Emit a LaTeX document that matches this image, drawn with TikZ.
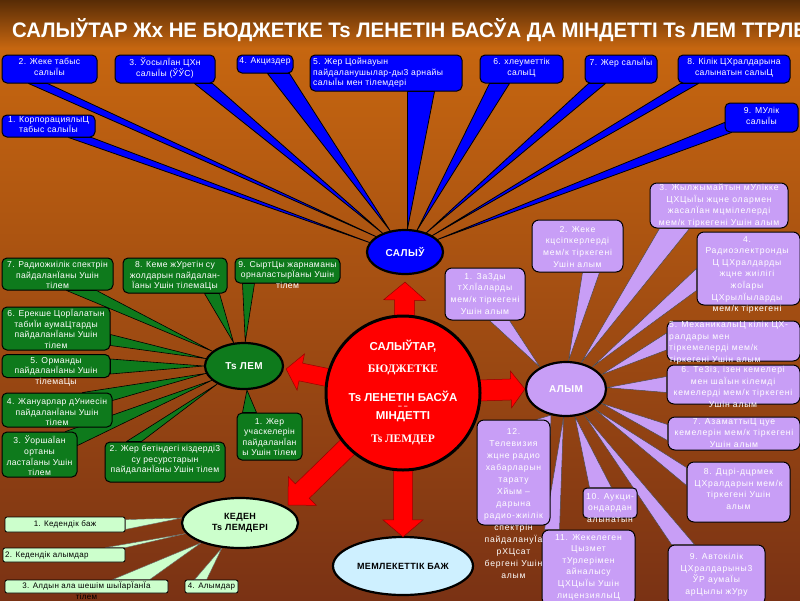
\documentclass[tikz,border=0pt]{standalone}
\usepackage{fontspec}
\usepackage{graphicx}
\setmainfont{Liberation Sans}
\newfontfamily\bxfont[LetterSpace=4]{Liberation Sans}
\newfontfamily\pxfont[LetterSpace=9]{Liberation Sans}
\newfontfamily\serifb{Liberation Serif}
\usetikzlibrary{shapes.geometric,calc}
\pgfdeclarelayer{bg}\pgfdeclarelayer{wedges}\pgfsetlayers{bg,wedges,main}
\definecolor{bluebox}{RGB}{0,0,255}
\definecolor{greenbox}{RGB}{14,122,28}
\definecolor{purpbox}{RGB}{200,158,246}
\definecolor{kedbox}{RGB}{204,255,204}
\definecolor{membaj}{RGB}{206,240,255}
\definecolor{bgtop}{RGB}{88,44,6}
\definecolor{bgor}{RGB}{198,102,16}
\definecolor{bgmid}{RGB}{178,86,16}
\definecolor{bgbot}{RGB}{122,50,20}
\newcommand\blockarr[5]{%
  \coordinate (ha) at ($(#2)!#5!(#1)$);
  \draw[redarrow] ($(#1)!#3!90:(#2)$) -- ($(ha)!#3!90:(#2)$) -- ($(ha)!#4!90:(#2)$) -- (#2)
    -- ($(ha)!#4!-90:(#2)$) -- ($(ha)!#3!-90:(#2)$) -- ($(#1)!#3!-90:(#2)$) -- cycle;}
\begin{document}
\begin{tikzpicture}[x=1pt,y=-1pt,
  box/.style={draw=black, line width=1pt, rounded corners=5pt, inner sep=0pt},
  bbox/.style={box, fill=bluebox},
  gbox/.style={box, fill=greenbox},
  pbox/.style={box, fill=purpbox, rounded corners=7pt},
  kbox/.style={draw=black, line width=0.8pt, fill=kedbox, rounded corners=2pt, inner sep=0pt},
  btxt/.style={text=white, align=center, inner sep=0pt, font=\bxfont\fontsize{8.6}{10.6}\selectfont},
  gtxt/.style={btxt, font=\bxfont\fontsize{8.6}{10.6}\selectfont},
  ptxt/.style={text=white, align=center, inner sep=0pt, font=\pxfont\fontsize{8.6}{11.6}\selectfont},
  ktxt/.style={text=black, align=center, inner sep=0pt, font=\bxfont\fontsize{8}{11}\selectfont},
  bwedge/.style={fill=bluebox, draw=black, line width=0.8pt, line join=round},
  gwedge/.style={fill=greenbox, draw=black, line width=0.6pt, line join=round},
  pwedge/.style={fill=purpbox, draw=black!70, line width=0.5pt, line join=round},
  kwedge/.style={fill=kedbox, draw=black!60, line width=0.4pt, line join=round},
  oval/.style={ellipse, draw=black, line width=2.2pt, inner sep=0pt, align=center},
  ovalfont/.style={font=\bxfont\bfseries\fontsize{10}{12}\selectfont},
  redarrow/.style={fill=red, draw=red!60!black, line width=0.5pt},
  ctxt/.style={text=white, inner sep=0pt, font=\bfseries\fontsize{11.5}{13}\selectfont}
]
\useasboundingbox (0,0) rectangle (800,600);
\clip (0,0) rectangle (800,600);
\begin{pgfonlayer}{bg}
\fill[top color=bgtop, bottom color=bgor] (0,0) rectangle (800,48);
\fill[top color=bgor, middle color=bgmid, bottom color=bgbot] (0,48) rectangle (800,600);
\end{pgfonlayer}

% title
\node[anchor=base west, inner sep=0pt, text=white, font=\bfseries\fontsize{21}{21}\selectfont] (title) at (12,37)
  {\scalebox{0.97}[1]{САЛЫЎТАР Жх НЕ БЮДЖЕТКЕ Ts ЛЕНЕТІН БАСЎА ДА МІНДЕТТІ Ts ЛЕМ ТТРЛЕРІ}};

% blue boxes
\node[bbox, minimum width=93, minimum height=22] (b1) at (48.5,126) {};
\node[btxt, anchor=north] (b1t) at (48.5,116) {1. КорпорациялыЦ\\табыс салыЇы};
\node[bbox, minimum width=95, minimum height=28] (b2) at (49.5,69) {};
\node[btxt, anchor=north] (b2t) at (49.5,58) {2. Жеке табыс\\салыЇы};
\node[bbox, minimum width=100, minimum height=28] (b3) at (165,69) {};
\node[btxt, anchor=north] (b3t) at (165,58) {3. ЎосылЇан ЦХн\\салыЇы (ЎЎС)};
\node[bbox, minimum width=56, minimum height=18] (b4) at (265,64) {};
\node[btxt, anchor=north] (b4t) at (265,57) {4. Акциздер};
\node[bbox, minimum width=152, minimum height=36] (b5) at (386,73) {};
\node[btxt, align=left, anchor=north west] (b5t) at (313,58) {5. Жер Цойнауын\\пайдаланушылар-ды3 арнайы\\салыЇы мен тілемдері};
\node[bbox, minimum width=83, minimum height=28] (b6) at (521.5,69) {};
\node[btxt, anchor=north] (b6t) at (521.5,58) {6. хлеуметтік\\салыЦ};
\node[bbox, minimum width=72, minimum height=28] (b7) at (621,69) {};
\node[btxt, anchor=north] (b7t) at (621,58) {7. Жер салыЇы};
\node[bbox, minimum width=112, minimum height=28] (b8) at (734,69) {};
\node[btxt, anchor=north] (b8t) at (734,58) {8. Кілік ЦХралдарына\\салынатын салыЦ};
\node[bbox, minimum width=73, minimum height=29] (b9) at (761.5,117.5) {};
\node[btxt, anchor=north] (b9t) at (761.5,107) {9. МУлік\\салыЇы};

% green boxes
\node[gbox, minimum width=111, minimum height=32] (g7) at (57.5,274) {};
\node[gtxt, anchor=north] (g7t) at (57.5,261) {7. Радиожиілік спектрін\\пайдаланЇаны Ушін\\тілем};
\node[gbox, minimum width=104, minimum height=35] (g8) at (175,275.5) {};
\node[gtxt, anchor=north] (g8t) at (175,261) {8. Кеме жУретін су\\жолдарын пайдалан-\\Їаны Ушін тілемаЦы};
\node[gbox, minimum width=105, minimum height=25] (g9) at (287.5,270.5) {};
\node[gtxt, anchor=north] (g9t) at (287.5,261) {9. СыртЦы жарнаманы\\орналастырЇаны Ушін\\тілем};
\node[gbox, minimum width=108, minimum height=43] (g6) at (56,328.5) {};
\node[gtxt, anchor=north] (g6t) at (56,309) {6. Ерекше ЦорЇалатын\\табиЇи аумаЦтарды\\пайдаланЇаны Ушін\\тілем};
\node[gbox, minimum width=108, minimum height=23] (g5) at (56,366) {};
\node[gtxt, anchor=north] (g5t) at (56,357) {5. Орманды\\пайдаланЇаны Ушін\\тілемаЦы};
\node[gbox, minimum width=110, minimum height=34] (g4) at (57,410) {};
\node[gtxt, anchor=north] (g4t) at (57,398) {4. Жануарлар дУниесін\\пайдаланЇаны Ушін\\тілем};
\node[gbox, minimum width=75, minimum height=45] (g3) at (39.5,454.5) {};
\node[gtxt, anchor=north] (g3t) at (39.5,436) {3. ЎоршаЇан\\ортаны\\ластаЇаны Ушін\\тілем};
\node[gbox, minimum width=120, minimum height=40] (g2) at (165,462) {};
\node[gtxt, anchor=north] (g2t) at (165,445) {2. Жер бетіндегі кіздерді3\\су ресурстарын\\пайдаланЇаны Ушін тілем};
\node[gbox, minimum width=65, minimum height=47] (g1) at (269.5,436.5) {};
\node[gtxt, anchor=north] (g1t) at (269.5,418) {1. Жер\\учаскелерін\\пайдаланЇан\\ы Ушін тілем};

% purple boxes
\node[pbox, minimum width=80, minimum height=52] (p1) at (485,294) {};
\node[ptxt, anchor=north] (p1t) at (485,273) {1. За3ды\\тХлЇаларды\\мем/к тіркегені\\Ушін алым};
\node[pbox, minimum width=91, minimum height=52] (p2) at (577.5,246) {};
\node[ptxt, anchor=north] (p2t) at (577.5,226) {2. Жеке\\кцсіпкерлерді\\мем/к тіркегені\\Ушін алым};
\node[pbox, minimum width=138, minimum height=45] (p3) at (719,205.5) {};
\node[ptxt, anchor=north] (p3t) at (719,184) {3. Жылжымайтын мУлікке\\ЦХЦыЇы жцне олармен\\жасалЇан мцмілелерді\\мем/к тіркегені Ушін алым};
\node[pbox, minimum width=103, minimum height=73] (p4) at (748.5,268.5) {};
\node[ptxt, anchor=north] (p4t) at (747,236) {4.\\Радиоэлектронды\\Ц ЦХралдарды\\жцне жиілігі\\жоЇары\\ЦХрылЇыларды\\мем/к тіркегені};
\node[pbox, minimum width=133, minimum height=40] (p5) at (733.5,341) {};
\node[ptxt, align=left, anchor=north west] (p5t) at (669,321) {5. МеханикалыЦ кілік ЦХ-\\ралдары мен\\тіркемелерді мем/к\\тіркегені Ушін алым};
\node[pbox, minimum width=133, minimum height=39] (p6) at (733.5,384.5) {};
\node[ptxt, anchor=north] (p6t) at (733,366) {6. Те3із, ізен кемелері\\мен шаЇын кілемді\\кемелерді мем/к тіркегені\\Ушін алым};
\node[pbox, minimum width=132, minimum height=33] (p7) at (734,433.5) {};
\node[ptxt, anchor=north] (p7t) at (734,418) {7. АзаматтыЦ цуе\\кемелерін мем/к тіркегені\\Ушін алым};
\node[pbox, minimum width=103, minimum height=60] (p8) at (738.5,492) {};
\node[ptxt, anchor=north] (p8t) at (738.5,468) {8. Дцрі-дцрмек\\ЦХралдарын мем/к\\тіркегені Ушін\\алым};
\node[pbox, minimum width=97, minimum height=60] (p9) at (716.5,575) {};
\node[ptxt, anchor=north] (p9t) at (716.5,553) {9. Автокілік\\ЦХралдарыны3\\ЎР аумаЇы\\арЦылы жУру};
\node[pbox, rounded corners=4pt, minimum width=54, minimum height=30] (p10) at (610,503) {};
\node[ptxt, anchor=north] (p10t) at (610,493) {10. Аукци-\\ондардан\\алынатын};
\node[pbox, minimum width=93, minimum height=75] (p11) at (588.5,567.5) {};
\node[ptxt, anchor=north] (p11t) at (588.5,534) {11. Жекелеген\\Цызмет\\тУрлерімен\\айналысу\\ЦХЦыЇы Ушін\\лицензиялыЦ};
\node[pbox, minimum width=73, minimum height=105] (p12) at (513.5,472.5) {};
\node[ptxt, anchor=north, font=\pxfont\fontsize{8.6}{12}\selectfont] (p12t) at (513.5,428) {12.\\Телевизия\\жцне радио\\хабарларын\\тарату\\Хйым –\\дарына\\радио-жиілік\\спектрін\\пайдалануЇа\\рХЦсат\\бергені Ушін\\алым};

% customs boxes
\node[kbox, minimum width=120, minimum height=15] (k1) at (65,524.5) {};
\node[ktxt] (k1t) at (65,524.5) {1. Кедендік баж};
\node[kbox, minimum width=122, minimum height=14] (k2) at (64,555) {};
\node[ktxt, anchor=west] (k2t) at (5,555) {2. Кедендік алымдар};
\node[kbox, minimum width=163, minimum height=13] (k3) at (86.5,586.5) {};
\node[ktxt, anchor=north] (k3t) at (86.5,582) {3. Алдын ала шешім шыЇарЇанЇа\\тілем};
\node[kbox, minimum width=53, minimum height=13] (k4) at (211.5,586.5) {};
\node[ktxt] (k4t) at (211.5,586.5) {4. Алымдар};

% ellipses
\node[oval, ovalfont, fill=bluebox, text=white, minimum width=76, minimum height=44] (salyq) at (405,252) {САЛЫЎ};
\node[oval, ovalfont, fill=greenbox, text=white, minimum width=78, minimum height=46] (tolem) at (244,366) {Ts ЛЕМ};
\node[oval, ovalfont, fill=purpbox, text=white, minimum width=80, minimum height=54] (alym) at (566,389) {АЛЫМ};
\node[oval, fill=kedbox, text=black, minimum width=116, minimum height=50, font=\bxfont\bfseries\fontsize{9}{11}\selectfont] (keden) at (240,523) {КЕДЕН\\Ts ЛЕМДЕРІ};
\node[oval, fill=membaj, text=black, minimum width=140, minimum height=58, font=\bxfont\bfseries\fontsize{9}{11}\selectfont] (memb) at (403,566) {МЕМЛЕКЕТТІК БАЖ};

% wedges
\begin{pgfonlayer}{wedges}
\draw[bwedge] ($(b1.south)+(20,0)$) -- (salyq.165) -- ($(b1.south east)+(-4,0)$) -- cycle;
\draw[bwedge] ($(b2.south west)+(27,0)$) -- (salyq.152) -- ($(b2.south west)+(46,0)$) -- cycle;
\draw[bwedge] ($(b3.south west)+(80,0)$) -- (salyq.140) -- ($(b3.south west)+(98,0)$) -- cycle;
\draw[bwedge] ($(b4.south west)+(31,0)$) -- (salyq.125) -- ($(b4.south west)+(53,0)$) -- cycle;
\draw[bwedge] ($(b5.south west)+(98,0)$) -- (salyq.84) -- ($(b5.south west)+(125,0)$) -- cycle;
\draw[bwedge] ($(b6.south west)+(10,0)$) -- (salyq.61) -- ($(b6.south west)+(30,0)$) -- cycle;
\draw[bwedge] ($(b7.south west)+(4,0)$) -- (salyq.42) -- ($(b7.south west)+(21,0)$) -- cycle;
\draw[bwedge] ($(b8.south west)+(3,0)$) -- (salyq.31) -- ($(b8.south west)+(21,0)$) -- cycle;
\draw[bwedge] ($(b9.south west)+(0,-10)$) -- (salyq.21) -- ($(b9.south west)+(7,0)$) -- cycle;

\draw[gwedge] ($(g7.south west)+(65,0)$) -- (tolem.155) -- ($(g7.south west)+(95,0)$) -- cycle;
\draw[gwedge] ($(g8.south west)+(82,0)$) -- (tolem.114) -- ($(g8.south west)+(97,0)$) -- cycle;
\draw[gwedge] ($(g9.south west)+(8,0)$) -- (tolem.87) -- ($(g9.south west)+(20,0)$) -- cycle;
\draw[gwedge] ($(g6.south east)+(0,-16)$) -- (tolem.169) -- ($(g6.south east)+(0,-5)$) -- cycle;
\draw[gwedge] ($(g5.north east)+(0,5)$) -- (tolem.180) -- ($(g5.south east)+(0,-4)$) -- cycle;
\draw[gwedge] ($(g4.north east)+(-30,0)$) -- (tolem.191) -- ($(g4.north east)+(0,8)$) -- cycle;
\draw[gwedge] ($(g3.north east)+(-12,0)$) -- (tolem.204) -- ($(g3.north east)+(0,14)$) -- cycle;
\draw[gwedge] ($(g2.north west)+(22,0)$) -- (tolem.214) -- ($(g2.north west)+(37,0)$) -- cycle;
\draw[gwedge] ($(g1.north west)+(6,0)$) -- (tolem.277) -- ($(g1.north west)+(20,0)$) -- cycle;

\draw[pwedge] ($(p1.south west)+(45,0)$) -- (alym.140) -- ($(p1.south west)+(65,0)$) -- cycle;
\draw[pwedge] ($(p2.south west)+(51,0)$) -- (alym.85) -- ($(p2.south west)+(68,0)$) -- cycle;
\draw[pwedge] ($(p3.south west)+(10,0)$) -- (alym.60) -- ($(p3.south west)+(40,0)$) -- cycle;
\draw[pwedge] ($(p4.west)+(0,0)$) -- (alym.40) -- ($(p4.west)+(0,22)$) -- cycle;
\draw[pwedge] ($(p5.west)+(0,-8)$) -- (alym.22) -- ($(p5.west)+(0,9)$) -- cycle;
\draw[pwedge] ($(p6.west)+(0,-8)$) -- (alym.2) -- ($(p6.west)+(0,8)$) -- cycle;
\draw[pwedge] ($(p7.west)+(0,-9)$) -- (alym.-22) -- ($(p7.west)+(0,7)$) -- cycle;
\draw[pwedge] ($(p8.north west)+(0,6)$) -- (alym.-35) -- ($(p8.north west)+(0,24)$) -- cycle;
\draw[pwedge] ($(p9.north west)+(4,0)$) -- (alym.-55) -- ($(p9.north west)+(27,0)$) -- cycle;
\draw[pwedge] ($(p10.north west)+(7,0)$) -- (alym.-72) -- ($(p10.north west)+(29,0)$) -- cycle;
\draw[pwedge] ($(p11.north west)+(3,0)$) -- (alym.-95) -- ($(p11.north west)+(18,0)$) -- cycle;
\draw[pwedge] ($(p12.north east)+(-14,0)$) -- (alym.-120) -- ($(p12.north east)+(0,16)$) -- cycle;

\draw[kwedge] ($(k1.north east)+(0,3)$) -- (keden.175) -- ($(k1.south east)+(0,-3)$) -- cycle;
\draw[kwedge] ($(k2.north east)+(-20,0)$) -- (keden.191) -- (k2.north east) -- cycle;
\draw[kwedge] ($(k3.north west)+(108,0)$) -- (keden.207) -- ($(k3.north west)+(145,0)$) -- cycle;
\draw[kwedge] ($(k4.north west)+(10,0)$) -- (keden.234) -- ($(k4.north west)+(22,0)$) -- cycle;
\end{pgfonlayer}

% central circle and red arrows
\coordinate (mcc) at (403,393);
\coordinate (tipU) at ($(salyq.south)+(0,7)$);
\coordinate (tipL) at ($(tolem.east)+(2,3)$);
\coordinate (tipR) at (alym.west);
\coordinate (tipD) at ($(memb.north)+(0,1)$);
\coordinate (tipK) at (288,505);
\blockarr{mcc}{tipU}{10pt}{21pt}{18pt}
\blockarr{mcc}{tipL}{9pt}{18.5pt}{15pt}
\blockarr{mcc}{tipR}{10.5pt}{18.5pt}{14pt}
\blockarr{mcc}{tipD}{9.5pt}{20pt}{17pt}
\blockarr{mcc}{tipK}{10pt}{20pt}{20pt}
\node[circle, draw=black, line width=3pt, fill=red, minimum size=154pt, inner sep=0pt] (mc) at (mcc) {};
\node[ctxt] (c1) at (403,346) {САЛЫЎТАР,};
\node[ctxt, font=\serifb\bfseries\fontsize{11.5}{13}\selectfont] (c2) at (403,370) {БЮДЖЕТКЕ};
\node[ctxt] (c3) at (403,396) {Ts ЛЕНЕТІН БАСЎА};
\node[ctxt, font=\bfseries\fontsize{7}{8}\selectfont] (c4) at (403,407) {– –};
\node[ctxt] (c5) at (403,417) {МІНДЕТТІ};
\node[ctxt, font=\serifb\bfseries\fontsize{11.5}{13}\selectfont] (c6) at (403,440) {Ts ЛЕМДЕР};
\end{tikzpicture}
\end{document}
